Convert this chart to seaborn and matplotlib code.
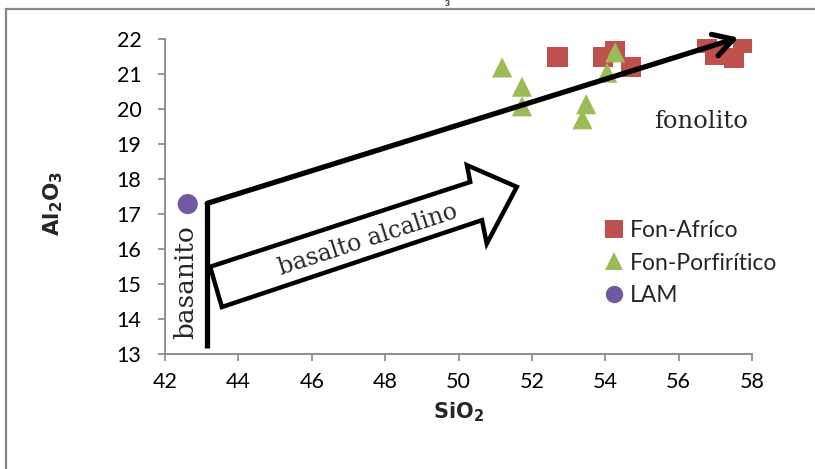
import pandas as pd
import matplotlib as mpl
mpl.use('Agg')
import matplotlib.pyplot as plt
from matplotlib.patches import Polygon, Rectangle
import seaborn as sns

# SiO2 x Al2O3 values
af_x = [52.7, 53.95, 54.27, 54.7, 56.77, 56.98, 57.5, 57.75]
af_y = [21.48, 21.47, 21.64, 21.19, 21.88, 21.54, 21.45, 21.88]
po_x = [51.19, 51.73, 51.73, 53.48, 53.38, 54.05, 54.27]
po_y = [21.18, 20.63, 20.07, 20.13, 19.7, 21.03, 21.61]
lam_x = [42.62]
lam_y = [17.28]
groups = ["Fon-Afríco", "Fon-Porfirítico", "LAM"]
colors = ["#C0504D", "#9BBB59", "#7159A0"]
markers = ["s", "^", "o"]

# annotation geometry (data units)
basanito_x = 43.15
basanito_y = [13.16, 17.3]
trend_end = (57.63, 22.03)
block_arrow = [(43.23, 15.49), (50.32, 17.91), (50.23, 18.39), (51.59, 17.77),
               (50.77, 16.15), (50.64, 16.82), (43.55, 14.34)]

df = pd.DataFrame({
    "SiO2": af_x + po_x + lam_x,
    "Al2O3": af_y + po_y + lam_y,
    "grupo": [groups[0]] * len(af_x) + [groups[1]] * len(po_x) + [groups[2]] * len(lam_x),
})

sns.set_style("ticks")
plt.rcParams['font.family'] = ['Lato', 'DejaVu Sans']

fig = plt.figure(figsize=(8.15, 4.69), dpi=100)
ax = fig.add_axes([165 / 815, 1 - 354 / 469, 587 / 815, 315.3 / 469])

sns.scatterplot(data=df, x="SiO2", y="Al2O3", hue="grupo", style="grupo",
                hue_order=groups, style_order=groups,
                palette=dict(zip(groups, colors)), markers=dict(zip(groups, markers)),
                s=210, linewidth=0, ax=ax, zorder=3)

ax.set_xlim(42, 58)
ax.set_ylim(13, 22)
ax.set_xticks(range(42, 59, 2))
ax.set_yticks(range(13, 23))
sns.despine(ax=ax)
gray = "#868686"
for sp in ["left", "bottom"]:
    ax.spines[sp].set_color(gray)
    ax.spines[sp].set_linewidth(1.3)
ax.tick_params(colors=gray, labelcolor="black", labelsize=15.5, length=5, width=1.2)
ax.tick_params(axis="y", pad=12)
ax.tick_params(axis="x", pad=8)

ax.set_xlabel(r"$\mathbf{SiO_2}$", fontsize=15)
ax.set_ylabel(r"$\mathbf{Al_2O_3}$", fontsize=15.5)
ax.xaxis.set_label_coords(0.5, -(412 - 354) / 315)
ax.yaxis.set_label_coords((53 - 165) / 587, 0.478)
ax.xaxis.label.set_va("center")
ax.yaxis.label.set_va("center")
ax.yaxis.label.set_ha("center")

# trend annotations
ax.plot([basanito_x, basanito_x], basanito_y, color="black", lw=3.8,
        solid_capstyle="butt", zorder=4)
ax.annotate("", xy=trend_end, xytext=(basanito_x, basanito_y[1]),
            annotation_clip=False,
            arrowprops=dict(arrowstyle="->,head_length=0.7,head_width=0.4",
                            lw=3.8, color="black", shrinkA=0, shrinkB=0,
                            mutation_scale=20), zorder=4)
ax.add_patch(Polygon(block_arrow, closed=True, fill=False, edgecolor="black",
                     lw=3.2, joinstyle="miter", zorder=4))

serif = ["DejaVu Serif"]
ax.text(47.54, 16.25, "basalto alcalino", family=serif, fontsize=17,
        rotation=18, ha="center", va="center", rotation_mode="anchor")
ax.text(42.56, 15.05, "basanito", family=serif, fontsize=19,
        rotation=90, ha="center", va="center")
ax.text(56.6, 19.65, "fonolito", family=serif, fontsize=17.5,
        ha="center", va="center")

leg = ax.legend(loc="center left", bbox_to_anchor=(606 / 815, 1 - 263 / 469),
                bbox_transform=fig.transFigure, frameon=False, fontsize=16.5,
                handlelength=0.7, handletextpad=0.35, labelspacing=0.5,
                borderpad=0, borderaxespad=0)
for h in leg.legend_handles:
    h.set_markersize(12.5)
    h.set_markeredgewidth(0)

# outer chart frame and clipped title fragment
fig.patches.append(Rectangle((5.7 / 815, -0.1), 1.2, 1.1 - 9 / 469,
                             transform=fig.transFigure, fill=False,
                             edgecolor=gray, lw=1.6))
fig.text(447 / 815, 0.999, "3", fontsize=6, fontweight="bold",
         ha="center", va="top")

fig.savefig("out.png", dpi=100)
